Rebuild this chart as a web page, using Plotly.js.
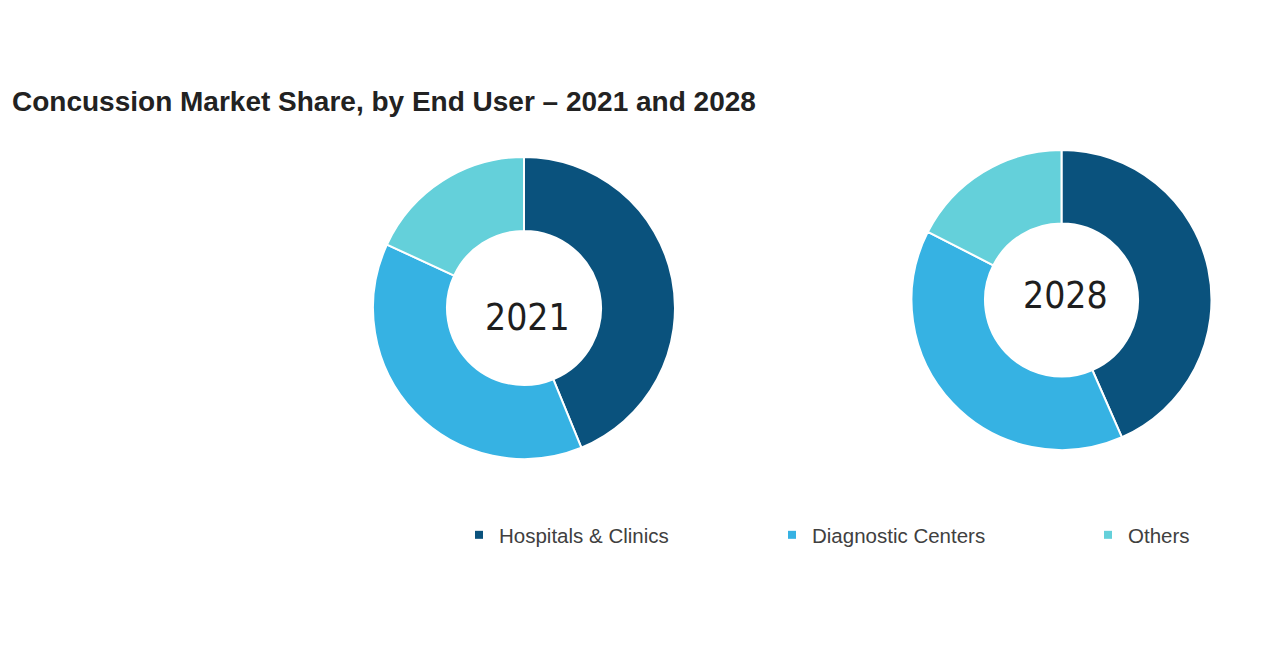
<!DOCTYPE html>
<html>
<head>
<meta charset="utf-8">
<script src="https://cdn.plot.ly/plotly-3.0.1.min.js"></script>
<style>html,body{margin:0;padding:0;background:#fff;overflow:hidden;}#chart{width:1280px;height:670px;}</style>
</head>
<body>
<div id="chart"></div>
<script>
const categories = ["Hospitals & Clinics", "Diagnostic Centers", "Others"];
const years = ["2021", "2028"];
const share2021 = [43.8, 38.1, 18.1];
const share2028 = [43.4, 39.1, 17.5];
const colors = ["#0A527D", "#36B2E3", "#64D0DA"];

const W = 1280, H = 670;
function dom(x0, x1, yTop, yBot) {
  return { x: [x0 / W, x1 / W], y: [1 - yBot / H, 1 - yTop / H] };
}

function pie(values, domain) {
  return {
    type: "pie",
    labels: categories,
    values: values,
    domain: domain,
    hole: 0.51,
    sort: false,
    direction: "clockwise",
    rotation: 0,
    textinfo: "none",
    hoverinfo: "label+percent",
    showlegend: false,
    marker: { colors: colors, line: { color: "#ffffff", width: 2 } }
  };
}

const traces = [
  pie(share2021, dom(373, 675, 157, 459)),
  pie(share2028, dom(911, 1212, 150, 450))
];

// legend entries: one legend per category so they can be spaced like the original
const legendIds = ["legend", "legend2", "legend3"];
categories.forEach((c, i) => {
  traces.push({
    type: "scatter", mode: "markers",
    x: [null], y: [null],
    name: c,
    legend: legendIds[i],
    marker: { symbol: "square", size: 8, color: colors[i] },
    hoverinfo: "skip",
    showlegend: true
  });
});

const legendFont = { family: "Liberation Sans, Arial, sans-serif", size: 20.5, color: "#404040" };
const legendX = [459, 772, 1088];
function mkLegend(px) {
  return {
    orientation: "h",
    x: px / W, xanchor: "left",
    y: 1 - 535 / H, yanchor: "middle",
    bgcolor: "rgba(0,0,0,0)",
    borderwidth: 0,
    font: legendFont
  };
}

const yearFont = { family: "DejaVu Sans Condensed, DejaVu Sans, sans-serif", size: 37, color: "#1e1e1e" };

const layout = {
  width: W, height: H,
  margin: { l: 0, r: 0, t: 0, b: 0 },
  paper_bgcolor: "#ffffff",
  plot_bgcolor: "#ffffff",
  xaxis: { visible: false, showgrid: false, zeroline: false },
  yaxis: { visible: false, showgrid: false, zeroline: false },
  title: {
    text: "<b>Concussion Market Share, by End User – 2021 and 2028</b>",
    x: 12 / W, xanchor: "left", xref: "container",
    y: 1 - 101 / H, yanchor: "middle", yref: "container",
    font: { family: "Liberation Sans, Arial, sans-serif", size: 28, color: "#222222" }
  },
  legend: mkLegend(legendX[0]),
  legend2: mkLegend(legendX[1]),
  legend3: mkLegend(legendX[2]),
  annotations: [
    { text: years[0], xref: "paper", yref: "paper", x: 527.5 / W, y: 1 - 317 / H, xanchor: "center", yanchor: "middle", showarrow: false, font: yearFont },
    { text: years[1], xref: "paper", yref: "paper", x: 1065 / W, y: 1 - 295 / H, xanchor: "center", yanchor: "middle", showarrow: false, font: yearFont }
  ]
};

Plotly.newPlot("chart", traces, layout, { displayModeBar: false, staticPlot: true });
</script>
</body>
</html>
